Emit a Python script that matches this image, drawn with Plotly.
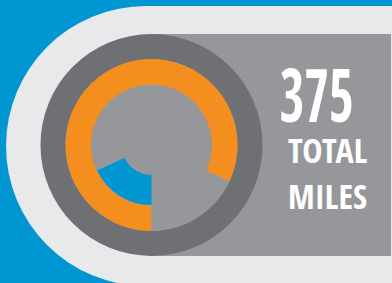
import json
import plotly.graph_objects as go

# ---- data ----
total_miles = 375
label_lines = ["TOTAL", "MILES"]
ring_labels = ["Orange share", "Remainder"]
ring_values = [82, 18]
inner_labels = ["Blue share", "Remainder"]
inner_values = [18, 82]

# ---- colours ----
BLUE = "#0096D1"
LIGHT = "#E8E9EB"
MID = "#96979B"
DARK = "#6F7074"
ORANGE = "#F48F1F"

W, H = 392, 283


def px(x):
    return x / W


def py(y):
    return 1 - y / H


cx, cy = 151.5, 145.0


def dom(r):
    return dict(x=[px(cx - r), px(cx + r)], y=[py(cy + r), py(cy - r)])


fig = go.Figure()

fig.add_trace(go.Pie(
    labels=ring_labels, values=ring_values, hole=60.5 / 86,
    sort=False, direction="clockwise", rotation=180,
    marker=dict(colors=[ORANGE, MID], line=dict(width=0)),
    textinfo="none", hoverinfo="label+value", showlegend=False,
    domain=dom(86),
))
fig.add_trace(go.Pie(
    labels=inner_labels, values=inner_values, hole=30 / 60,
    sort=False, direction="clockwise", rotation=180,
    marker=dict(colors=[BLUE, "rgba(0,0,0,0)"], line=dict(width=0)),
    textinfo="none", hoverinfo="label+value", showlegend=False,
    domain=dom(60),
))

shapes = [
    # light rounded panel
    dict(type="circle", xref="paper", yref="paper", x0=px(6), x1=px(286),
         y0=py(286), y1=py(6), fillcolor=LIGHT, line=dict(width=0), layer="below"),
    dict(type="rect", xref="paper", yref="paper", x0=px(146), x1=px(392),
         y0=py(286), y1=py(6), fillcolor=LIGHT, line=dict(width=0), layer="below"),
    # mid grey panel
    dict(type="rect", xref="paper", yref="paper", x0=px(cx), x1=px(391),
         y0=py(256), y1=py(34), fillcolor=MID, line=dict(width=0), layer="below"),
    # dark disk
    dict(type="circle", xref="paper", yref="paper", x0=px(cx - 111), x1=px(cx + 111),
         y0=py(cy + 111), y1=py(cy - 111), fillcolor=DARK, line=dict(width=0), layer="below"),
    dict(type="circle", xref="paper", yref="paper", x0=px(cx - 86), x1=px(cx + 86),
         y0=py(cy + 86), y1=py(cy - 86), fillcolor=MID, line=dict(width=0), layer="below"),
]

FONT = "Open Sans Condensed, Roboto Condensed, DejaVu Sans Condensed, sans-serif"
annotations = [
    dict(text=f"<b>{total_miles}</b>", x=px(316), y=py(94), xref="paper", yref="paper",
         showarrow=False, xanchor="center", yanchor="middle",
         font=dict(family=FONT, size=73, color="white")),
    dict(text=f"<b>{label_lines[0]}</b>", x=px(327), y=py(150), xref="paper", yref="paper",
         showarrow=False, xanchor="center", yanchor="middle",
         font=dict(family=FONT, size=34, color="white")),
    dict(text=f"<b>{label_lines[1]}</b>", x=px(327), y=py(196), xref="paper", yref="paper",
         showarrow=False, xanchor="center", yanchor="middle",
         font=dict(family=FONT, size=34, color="white")),
]

fig.update_layout(
    width=W, height=H, margin=dict(l=0, r=0, t=0, b=0),
    paper_bgcolor=BLUE, plot_bgcolor=BLUE,
    shapes=shapes, annotations=annotations, showlegend=False,
)

# horizontally condense the label glyphs to the reference widths (text stays text)
target_widths = [74, 80, 80]
post = """
document.body.style.margin='0';
var tw = %s;
var ts = document.querySelectorAll('.annotation-text');
ts.forEach(function(t, i){
  var b = t.getBBox();
  var s = tw[i] / b.width;
  if (s > 1) { s = 1; }
  var c = b.x + b.width / 2;
  t.setAttribute('transform', 'translate(' + c + ',0) scale(' + s + ',1) translate(' + (-c) + ',0)');
});
""" % json.dumps(target_widths)

fig.write_html("out.html", config=dict(displayModeBar=False), post_script=post)
